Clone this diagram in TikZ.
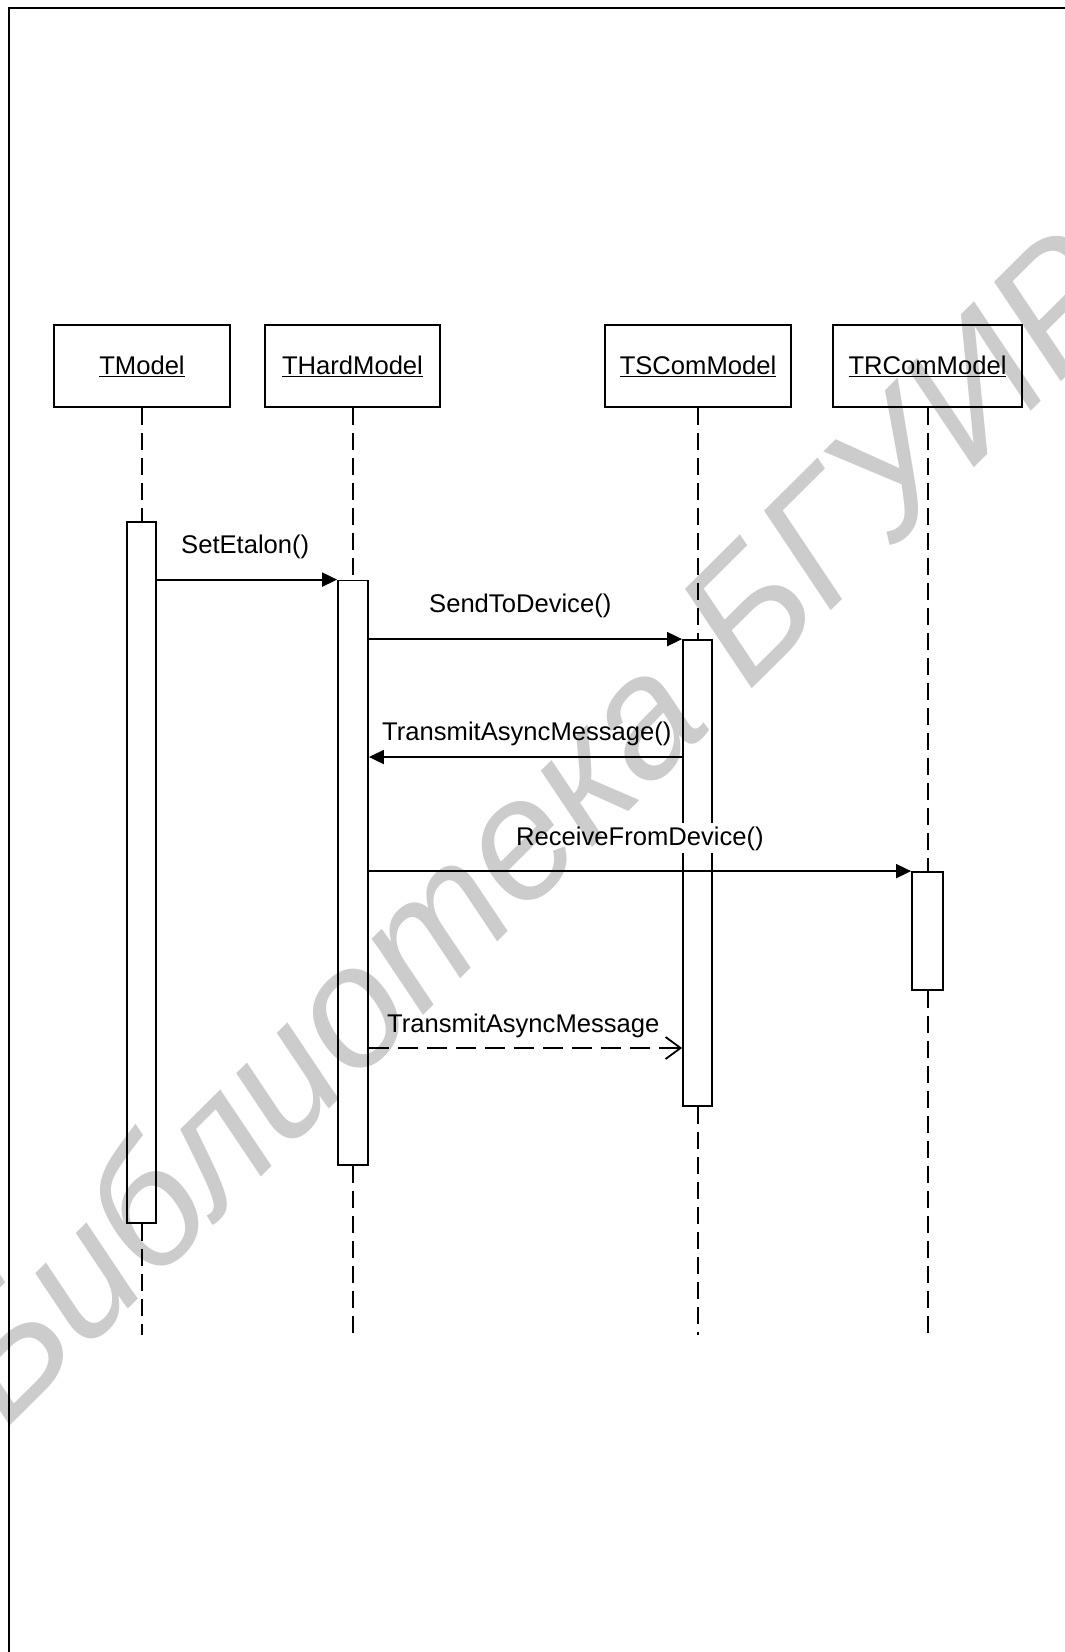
\documentclass[tikz,border=0pt]{standalone}
\usepackage{fontspec}
\setmainfont{Liberation Sans}
\newfontfamily\umlfont{Liberation Sans}
\newfontfamily\wmfont{Liberation Sans}
\usetikzlibrary{arrows.meta}
\definecolor{wmgray}{RGB}{204,204,204}
\begin{document}
\begin{tikzpicture}[x=1pt,y=-1pt,
  objbox/.style={draw, line width=1.8pt, inner sep=0pt, minimum height=82pt,
    font=\umlfont\fontsize{25.6}{30}\selectfont},
  actbar/.style={draw, fill=white, line width=1.8pt, inner sep=0pt, minimum width=29pt},
  lifeline/.style={line width=2pt, dash pattern=on 17pt off 8pt},
  msg/.style={line width=1.8pt, -{Triangle[length=15pt,width=14pt]}},
  reply/.style={line width=1.8pt, dash pattern=on 20pt off 9pt,
    -{Straight Barb[length=15pt,width=22pt,line width=1.8pt]}},
  lbl/.style={font=\umlfont\fontsize{25.6}{30}\selectfont, inner sep=0pt, anchor=base west}]
\useasboundingbox (0,0) rectangle (1065,1652);
\fill[white] (0,0) rectangle (1065,1652);
% frame
\draw[line width=2pt] (9,1660) -- (9,8) -- (1070,8);
% objects
\node[objbox, minimum width=176pt] (tm) at (142,366) {\underline{TModel}};
\node[objbox, minimum width=175pt] (th) at (352.5,366) {\underline{THardModel}};
\node[objbox, minimum width=186pt] (ts) at (698,366) {\underline{TSComModel}};
\node[objbox, minimum width=189pt] (tr) at (927.5,366) {\underline{TRComModel}};
\coordinate (lend) at (0,1335);
\coordinate (m3) at (0,757);
\coordinate (m5) at (0,1048);
% activation bars
\node[actbar, minimum height=701pt] (bm) at (141.5,872.5) {};
\node[actbar, minimum width=30pt, minimum height=584.5pt] (bh) at (353,872.75) {};
\node[actbar, minimum height=466pt] (bs) at (697.5,873) {};
\node[actbar, minimum width=31pt, minimum height=118pt] (br) at (927.5,931) {};
% lifelines
\draw[lifeline] (bm.north |- tm.south) -- (bm.north);
\draw[lifeline] (bm.south) -- (bm.south |- lend);
\draw[lifeline] (bh.north |- th.south) -- (bh.north);
\draw[lifeline] (bh.south) -- (bh.south |- lend);
\draw[lifeline] (bs.north |- ts.south) -- (bs.north);
\draw[lifeline] (bs.south) -- (bs.south |- lend);
\draw[lifeline] (br.north |- tr.south) -- (br.north);
\draw[lifeline] (br.south) -- (br.south |- lend);
% messages
\draw[msg] (bm.east |- bh.north) -- (bh.north west);
\draw[msg] (bh.east |- bs.north) -- (bs.north west);
\draw[msg] (bs.west |- m3) -- (bh.east |- m3);
\draw[msg] (bh.east |- br.north) -- (br.north west);
\draw[reply] (bh.east |- m5) -- (bs.west |- m5);
% labels
\node[lbl] (l1) at (181,553) {SetEtalon()};
\node[lbl] (l2) at (429,612) {SendToDevice()};
\node[lbl] (l3) at (382,740) {TransmitAsyncMessage()};
\node[lbl, fill=white, inner sep=3pt] (l4) at (513,845) {ReceiveFromDevice()};
\node[lbl] (l5) at (387,1032) {TransmitAsyncMessage};
% watermark
\begin{scope}[blend mode=multiply]
\node[text=wmgray, font=\wmfont\itshape\fontsize{171}{171}\selectfont, rotate=44.8,
  anchor=base west, inner sep=0pt] (wm) at (6,1430) {Библиотека БГУИР};
\end{scope}
\end{tikzpicture}
\end{document}
